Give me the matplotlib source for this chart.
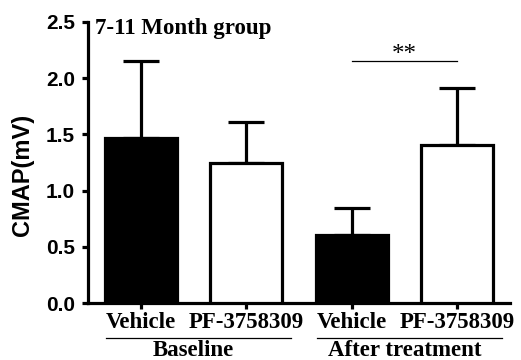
import numpy as np
import matplotlib.pyplot as plt

# CMAP data (mV)
conditions = ['Vehicle', 'PF-3758309', 'Vehicle', 'PF-3758309']
groups = ['Baseline', 'After treatment']
means = [1.47, 1.25, 0.61, 1.41]
sems = [0.68, 0.36, 0.24, 0.50]
colors = ['black', 'white', 'black', 'white']

serif = 'Liberation Serif'
sans = 'Liberation Sans'

fig = plt.figure(figsize=(5.21, 3.60), dpi=100)
ax = fig.add_axes([0.169, 0.158, 0.810, 0.781])

x = np.arange(len(means))
ax.bar(x, means, width=0.68, color=colors, edgecolor='black', linewidth=2.3, zorder=3)
ax.errorbar(x, means, yerr=[np.zeros(len(sems)), sems], fmt='none', ecolor='black',
            elinewidth=2.3, capsize=13, capthick=2.3, zorder=2)

ax.set_xlim(-0.5, 3.5)
ax.set_ylim(0, 2.5)
ax.set_yticks(np.arange(0, 2.51, 0.5))
ax.set_yticklabels(['%.1f' % v for v in np.arange(0, 2.51, 0.5)],
                   fontfamily=sans, fontweight='bold', fontsize=15)
ax.set_xticks(x)
ax.set_xticklabels(conditions, fontfamily=serif, fontweight='bold', fontsize=16.5)
ax.tick_params(direction='out', width=2.3, length=4.5)
ax.tick_params(axis='y', pad=5)
ax.tick_params(axis='x', pad=2)

for s in ['top', 'right']:
    ax.spines[s].set_visible(False)
for s in ['left', 'bottom']:
    ax.spines[s].set_linewidth(2.3)

ax.set_ylabel('CMAP(mV)', fontfamily=sans, fontweight='bold', fontsize=17)
ax.yaxis.set_label_coords(-0.128, 0.455)

ax.text(0.017, 0.975, '7-11 Month group', transform=ax.transAxes, ha='left', va='center',
        fontfamily=serif, fontweight='bold', fontsize=16.5)

# significance bar
ax.plot([2, 3], [2.15, 2.15], color='black', lw=0.9)
ax.text(2.5, 2.11, '**', ha='center', va='bottom', fontfamily=serif, fontsize=18)

# group labels under the x axis
for i, g in enumerate(groups):
    x0, x1 = 2 * i - 0.33, 2 * i + 1.42
    ax.plot([x0, x1], [-0.311, -0.311], color='black', lw=0.9, clip_on=False)
    ax.text(2 * i + 0.5, -0.468, g, ha='center', va='baseline', fontfamily=serif,
            fontweight='bold', fontsize=16.5)

fig.savefig('out.png', dpi=100)
